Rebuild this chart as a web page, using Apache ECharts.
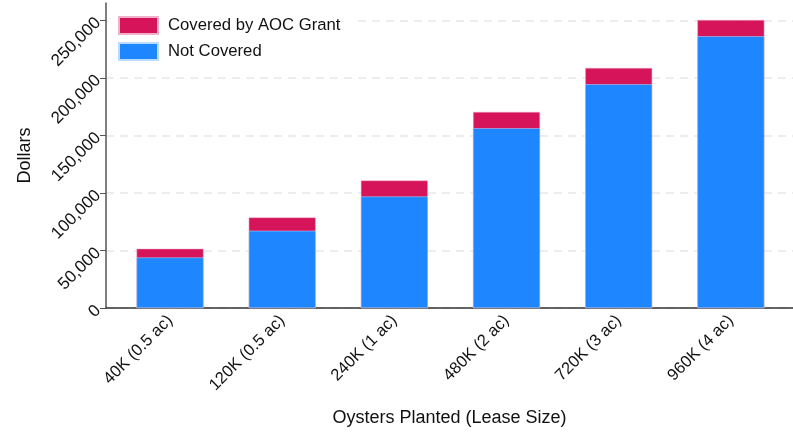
<!DOCTYPE html>
<html>
<head>
<meta charset="utf-8">
<script src="https://cdn.jsdelivr.net/npm/echarts@6/dist/echarts.min.js"></script>
<style>
  html, body { margin: 0; padding: 0; background: #fff; }
  #chart { width: 793px; height: 433px; }
</style>
</head>
<body>
<div id="chart"></div>
<script>
// lease sizes along the x axis
const categories = ['40K (0.5 ac)', '120K (0.5 ac)', '240K (1 ac)', '480K (2 ac)', '720K (3 ac)', '960K (4 ac)']
// dollars
const notCovered = [43900, 67100, 96900, 156200, 194400, 236100]
const coveredByGrant = [7600, 11600, 13900, 14200, 14200, 14200]
const yTicks = [0, 50000, 100000, 150000, 200000, 250000]

const font = 'Liberation Sans, Arial, sans-serif'
const positions = categories.map((c, i) => i)
// the grant part sits on top of the uncovered part
const totals = notCovered.map((v, i) => v + coveredByGrant[i])

const chart = echarts.init(document.getElementById('chart'), null, { renderer: 'canvas' })

chart.setOption({
  animation: false,
  textStyle: { fontFamily: font },
  grid: {
    left: 106,
    right: 0,
    top: 3,
    bottom: 125
  },
  legend: {
    left: 108,
    top: 8,
    orient: 'vertical',
    itemWidth: 39,
    itemHeight: 17,
    itemGap: 7,
    padding: [8, 16, 6, 10],
    backgroundColor: '#fff',
    icon: 'rect',
    textStyle: { fontSize: 16.7, color: '#111', fontFamily: font, padding: [0, 0, 0, 5] },
    data: ['Covered by AOC Grant', 'Not Covered']
  },
  xAxis: {
    type: 'value',
    min: -0.571,
    max: 5.554,
    name: 'Oysters Planted (Lease Size)',
    nameLocation: 'middle',
    nameGap: 101,
    nameTextStyle: { fontSize: 18, color: '#111', fontFamily: font },
    axisLine: { show: true, onZero: false, lineStyle: { color: '#333', width: 1.5 } },
    axisTick: { show: false, customValues: positions },
    axisLabel: {
      customValues: positions,
      rotate: 45,
      margin: 10,
      fontSize: 16.5,
      color: '#111',
      fontFamily: font,
      formatter: v => categories[Math.round(v)]
    },
    splitLine: { show: false }
  },
  yAxis: {
    type: 'value',
    min: 0,
    max: 265000,
    name: 'Dollars',
    nameLocation: 'middle',
    nameGap: 72,
    nameTextStyle: { fontSize: 18, color: '#111', fontFamily: font },
    axisLine: { show: true, onZero: false, lineStyle: { color: '#555', width: 1.5 } },
    axisTick: { show: true, length: 6, customValues: yTicks, lineStyle: { color: '#555' } },
    axisLabel: {
      customValues: yTicks,
      rotate: 45,
      margin: 8,
      fontSize: 17,
      color: '#111',
      fontFamily: font,
      formatter: v => v.toLocaleString('en-US')
    },
    splitLine: { show: true, lineStyle: { color: '#e8e8e8', type: [8, 6], width: 1.5 } }
  },
  series: [
    {
      name: 'Covered by AOC Grant',
      type: 'bar',
      barWidth: 67,
      barGap: '-100%',
      itemStyle: { color: '#D5145A', borderColor: '#f0b0c8', borderWidth: 0.5 },
      data: totals.map((v, i) => [i, v])
    },
    {
      name: 'Not Covered',
      type: 'bar',
      barWidth: 67,
      barGap: '-100%',
      itemStyle: { color: '#1E87FF', borderColor: '#bcdcff', borderWidth: 0.5 },
      data: notCovered.map((v, i) => [i, v])
    }
  ]
})
</script>
</body>
</html>
